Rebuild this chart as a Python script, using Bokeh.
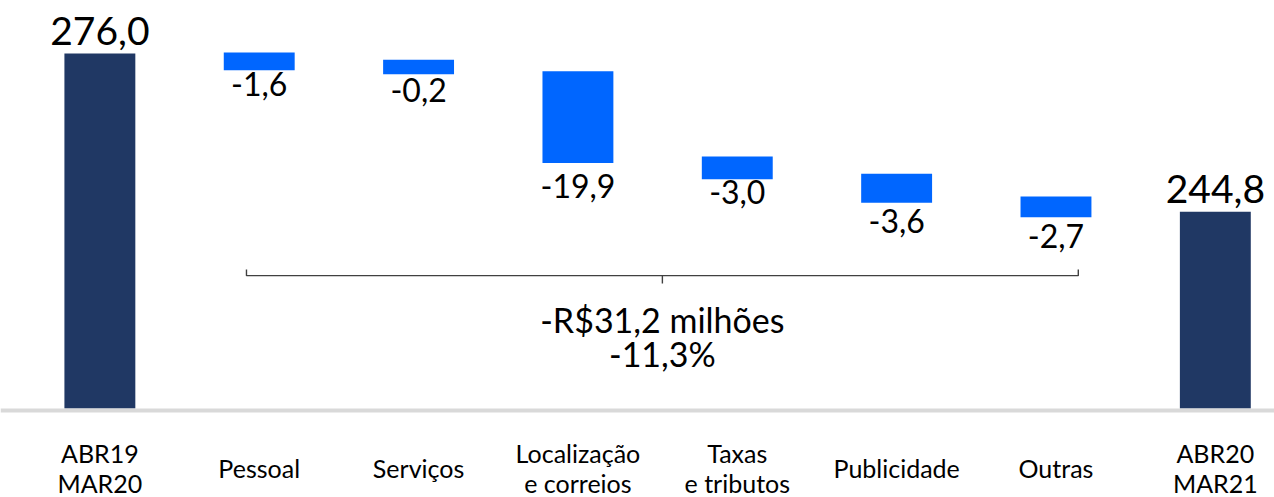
from bokeh.plotting import figure
from bokeh.models import ColumnDataSource, Range1d, Span
from bokeh.core.properties import value
from bokeh.embed import file_html
from bokeh.resources import INLINE

# ---------------- data ----------------
categories = ["ABR19\nMAR20", "Pessoal", "Serviços", "Localização\ne correios",
              "Taxas\ne tributos", "Publicidade", "Outras", "ABR20\nMAR21"]
totals = [276.0, 244.8]                       # first and last columns
changes = [-1.6, -0.2, -19.9, -3.0, -3.6, -2.7]
# change bars as drawn in the picture (the slide is not to scale)
change_tops = [276.2, 274.8, 272.5, 255.7, 252.3, 247.8]
change_bottoms = [272.7, 271.9, 254.4, 251.2, 246.6, 243.7]
axis_floor = 206.0
total_change = -31.2
total_change_pct = -11.3

# ---------------- styling / layout ----------------
NAVY = "#203864"
BLUE = "#0066FF"
FONT = value("Lato")
BAR_W = 0.445
label_gaps = [14, 16, 23, 13, 18, 19]   # px below each change bar (label centre)


def fmt(v):
    return f"{v:.1f}".replace(".", ",")


n = len(categories)
xs = list(range(n))

p = figure(width=1274, height=497, output_backend="svg", toolbar_location=None,
           x_range=Range1d(-0.6236, 7.3713), y_range=Range1d(188.45, 286.46),
           x_axis_location=None, y_axis_location=None, min_border=0,
           outline_line_color=None, background_fill_color="white",
           border_fill_color="white")
p.xgrid.visible = False
p.ygrid.visible = False

# baseline
p.add_layout(Span(location=axis_floor - 0.4, dimension="width",
                  line_color="#D9D9D9", line_width=4))

# total bars
tot_src = ColumnDataSource(dict(x=[xs[0], xs[-1]], top=totals,
                                bottom=[axis_floor] * len(totals),
                                label=[fmt(v) for v in totals]))
p.vbar(x="x", top="top", bottom="bottom", width=BAR_W, source=tot_src,
       fill_color=NAVY, line_color=None)
p.text(x="x", y="top", text="label", source=tot_src, text_font=FONT,
       text_font_size="39px", text_align="center", text_baseline="middle",
       y_offset=-23, text_color="#000000")

# change bars
chg_src = ColumnDataSource(dict(x=xs[1:-1], top=change_tops, bottom=change_bottoms,
                                label=[fmt(v) for v in changes], gap=label_gaps))
p.vbar(x="x", top="top", bottom="bottom", width=BAR_W, source=chg_src,
       fill_color=BLUE, line_color=None)
p.text(x="x", y="bottom", text="label", source=chg_src, text_font=FONT,
       text_font_size="32px", text_align="center", text_baseline="middle",
       y_offset="gap", text_color="#000000")

# category labels
cat_src = ColumnDataSource(dict(x=xs, y=[194.2] * n, label=categories))
p.text(x="x", y="y", text="label", source=cat_src, text_font=FONT,
       text_font_size="25px", text_align="center", text_baseline="middle",
       text_line_height=1.0, text_color="#000000")

# bracket over the change columns
b_left = xs[1] - 0.08
b_right = xs[-2] + 0.14
b_mid = (b_left + b_right) / 2
b_y = 232.2
p.multi_line(xs=[[b_left, b_left, b_right, b_right], [b_mid, b_mid]],
             ys=[[b_y + 1.2, b_y, b_y, b_y + 1.2], [b_y, b_y - 1.55]],
             line_color="#404040", line_width=1.4)

p.text(x=[b_mid, b_mid], y=[223.55, 216.85],
       text=[f"-R${fmt(abs(total_change))} milhões", f"{fmt(total_change_pct)}%"],
       text_font=FONT, text_font_size="34px", text_align="center",
       text_baseline="middle", text_color="#000000")

open("out.html", "w").write(file_html(p, INLINE))
